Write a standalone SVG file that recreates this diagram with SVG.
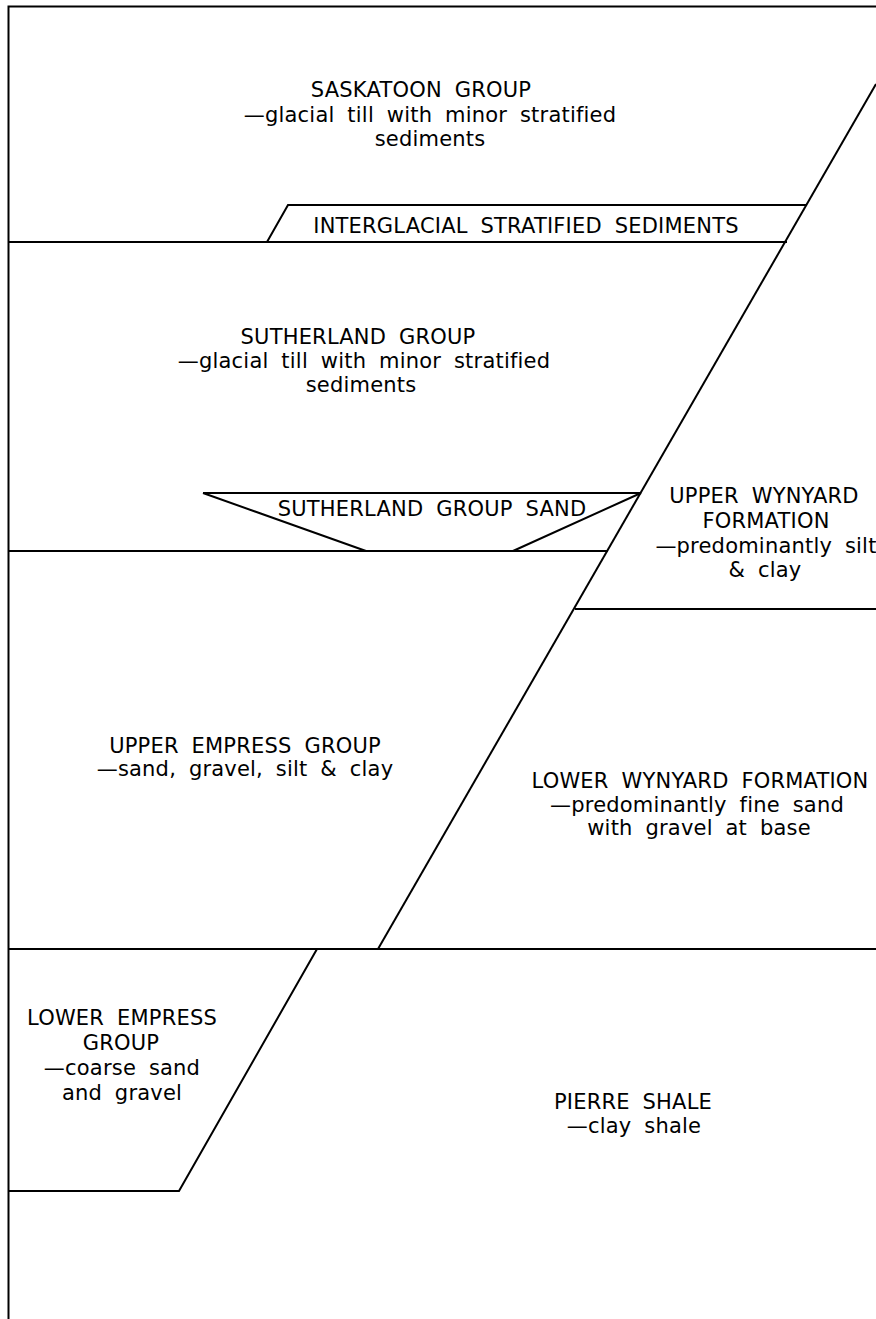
<svg xmlns="http://www.w3.org/2000/svg" width="876" height="1319" viewBox="0 0 876 1319">
<style>
  .ln { fill: none; stroke: #000; stroke-width: 2; stroke-linejoin: miter; }
  .t { font-family: "DejaVu Sans", "Liberation Sans", sans-serif; font-size: 21px; fill: #000; text-anchor: middle; letter-spacing: 0.2px; word-spacing: 6px; }
</style>
<rect width="876" height="1319" fill="#fff"/>
<g id="connectors">
  <path class="ln" d="M8.5,1319 V6.5 H876"/>
  <path class="ln" d="M876,84 L378,949"/>
  <path class="ln" d="M8.5,242 H787"/>
  <path class="ln" d="M267,242 L288,205 H807"/>
  <path class="ln" d="M203,493 H641 M203,493 L366,551 M641,493 L513,551"/>
  <path class="ln" d="M8.5,551 H608"/>
  <path class="ln" d="M575,609 H876"/>
  <path class="ln" d="M8.5,949 H876"/>
  <path class="ln" d="M317,949 L179,1191 H8.5"/>
</g>
<g id="saskatoon">
  <text class="t" x="421" y="97">SASKATOON GROUP</text>
  <text class="t" x="430" y="122">—glacial till with minor stratified</text>
  <text class="t" x="430" y="146">sediments</text>
</g>
<g id="interglacial">
  <text class="t" x="526" y="233">INTERGLACIAL STRATIFIED SEDIMENTS</text>
</g>
<g id="sutherland">
  <text class="t" x="358" y="344">SUTHERLAND GROUP</text>
  <text class="t" x="364" y="368">—glacial till with minor stratified</text>
  <text class="t" x="361" y="392">sediments</text>
</g>
<g id="sutherland-sand">
  <text class="t" x="432" y="516">SUTHERLAND GROUP SAND</text>
</g>
<g id="upper-wynyard">
  <text class="t" x="764" y="503">UPPER WYNYARD</text>
  <text class="t" x="766" y="528">FORMATION</text>
  <text class="t" x="766" y="553">—predominantly silt</text>
  <text class="t" x="765" y="577">&amp; clay</text>
</g>
<g id="upper-empress">
  <text class="t" x="245" y="753">UPPER EMPRESS GROUP</text>
  <text class="t" x="245" y="776">—sand, gravel, silt &amp; clay</text>
</g>
<g id="lower-wynyard">
  <text class="t" x="700" y="788">LOWER WYNYARD FORMATION</text>
  <text class="t" x="697" y="812">—predominantly fine sand</text>
  <text class="t" x="699" y="835">with gravel at base</text>
</g>
<g id="lower-empress">
  <text class="t" x="122" y="1025">LOWER EMPRESS</text>
  <text class="t" x="121" y="1050">GROUP</text>
  <text class="t" x="122" y="1075">—coarse sand</text>
  <text class="t" x="122" y="1100">and gravel</text>
</g>
<g id="pierre-shale">
  <text class="t" x="633" y="1109">PIERRE SHALE</text>
  <text class="t" x="634" y="1133">—clay shale</text>
</g>
</svg>
